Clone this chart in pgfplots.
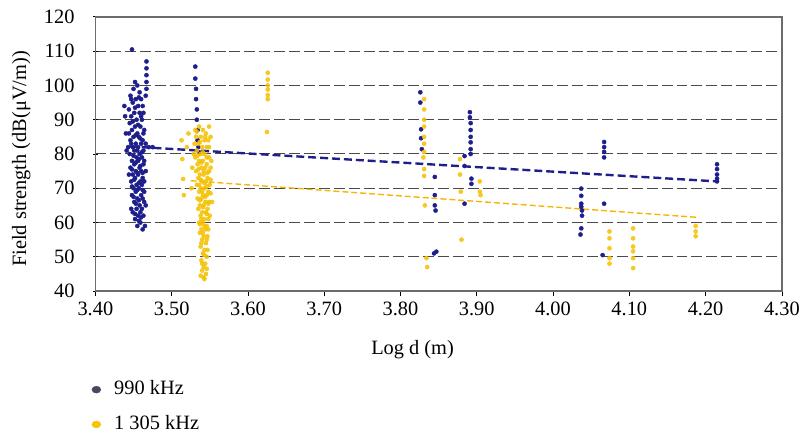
\documentclass[border=0pt]{standalone}
\usepackage{pgfplots}
\pgfplotsset{compat=1.18}
\usepackage{fontspec}
\setmainfont{Liberation Serif}
\definecolor{navy}{HTML}{1E1E8C}
\definecolor{gold}{HTML}{F4C000}
\definecolor{legnavy}{HTML}{4A4660}
\definecolor{leggold}{HTML}{F8C400}
\definecolor{gridc}{HTML}{4A4A4A}
\begin{document}
\begin{tikzpicture}
\begin{axis}[
  scale only axis, width=691pt, height=276pt,
  xmin=3.40, xmax=4.30, ymin=40, ymax=120,
  xtick={3.40,3.50,3.60,3.70,3.80,3.90,4.00,4.10,4.20,4.30},
  ytick={40,50,60,70,80,90,100,110,120},
  xticklabel style={/pgf/number format/fixed, /pgf/number format/fixed zerofill, /pgf/number format/precision=2, yshift=-2pt},
  /pgf/number format/assume math mode=true,
  font=\fontsize{20.5}{24}\selectfont,
  tick label style={font=\fontsize{20.5}{24}\selectfont},
  axis line style={draw=gray!85!black, line width=1.3pt},
  ymajorgrids, 
  major grid style={draw=gridc, line width=1.0pt, dash pattern=on 11pt off 4pt},
  ytick style={draw=black, line width=0.8pt},
  xtick style={draw=black, line width=0.6pt},
  major tick length=5pt,
  tick pos=left,
  xtick align=outside, ytick align=center,
  yticklabel style={xshift=-15pt},
  xlabel={Log d (m)},
  xlabel style={at={(axis description cs:0.462,0)}, anchor=north, yshift=-46pt},
  ylabel={Field strength (dB(μV/m))},
  ylabel style={at={(axis description cs:-0.108,0.482)}, anchor=center},
  legend style={at={(axis description cs:-0.0058,-0.316)}, anchor=north west, draw=none, fill=none, font=\fontsize{20.5}{24}\selectfont, row sep=11pt, inner sep=0pt, outer sep=0pt, nodes={text height=14pt, text depth=4pt, inner sep=3pt}},
  legend cell align=left,
]
% trend lines
\addplot[forget plot, navy, line width=2.4pt, dash pattern=on 8pt off 4pt] coordinates {(3.445,82.2)(4.215,72)};
\addplot[forget plot, gold!85!orange, line width=1.4pt, dash pattern=on 6pt off 3pt] coordinates {(3.525,72.2)(4.19,61.5)};
% 990 kHz
\addplot[forget plot, only marks, mark=*, mark size=2.1pt, color=navy] coordinates {
(3.448,110.5)
(3.467,107)(3.467,105)(3.467,103)(3.467,101)(3.467,99)(3.466,97)
(3.452,101)(3.455,100)(3.450,99)(3.458,98)(3.446,97)(3.453,96)(3.460,96)(3.449,95)(3.456,94)(3.462,94)(3.444,93)(3.451,92)(3.458,92)(3.447,91)(3.454,90)(3.461,90)(3.445,89)(3.452,88)(3.459,88)(3.464,87)(3.448,87)(3.455,86)(3.450,85)(3.457,85)(3.462,84)(3.446,84)(3.453,83)(3.460,83)(3.443,82)(3.449,82)(3.456,82)(3.463,81)(3.451,81)(3.458,80)(3.445,80)(3.454,79)(3.461,79)(3.448,78)(3.456,78)(3.463,77)(3.451,77)(3.458,76)(3.446,76)(3.453,75)(3.460,75)(3.449,74)(3.456,74)(3.462,73)(3.452,73)(3.459,72)(3.447,72)(3.454,71)(3.461,71)(3.450,70)(3.457,70)(3.464,69)(3.453,69)(3.460,68)(3.448,68)(3.455,67)(3.462,67)(3.451,66)(3.458,65)(3.454,64)(3.461,64)(3.449,63)(3.456,62)(3.463,62)(3.452,61)(3.459,60)(3.455,59)(3.462,58)(3.465,59)(3.447,96)(3.463,92)(3.444,86)(3.466,83)(3.441,81)(3.470,82)(3.475,82)(3.466,75)(3.444,74)(3.466,65)(3.447,64)
(3.457,96.5)(3.452,93.5)(3.460,91)(3.449,89.5)(3.456,88.5)(3.463,86)(3.453,85.5)(3.459,84.5)(3.447,83)(3.455,81)(3.461,80.5)(3.450,79.5)(3.457,78.5)(3.464,78)(3.453,77.5)(3.459,76.5)(3.448,75.5)(3.455,74.5)(3.462,74.5)(3.451,72.5)(3.457,71.5)(3.464,72)(3.448,70.5)(3.455,69.5)(3.462,69.5)(3.450,67.5)(3.457,66.5)(3.464,66)(3.453,65.5)(3.459,63)(3.452,62.5)(3.457,60.5)(3.460,61.5)
(3.438,94)(3.439,91)(3.440,86)
(3.531,105.5)(3.531,102)(3.532,99)(3.532,96)(3.533,93)(3.533,90)(3.534,87)(3.534,84)(3.535,82)(3.536,80.5)
(3.826,98)(3.826,95)(3.827,87.2)(3.827,84.6)(3.828,81.4)
(3.845,73.3)(3.845,68)(3.845,65)(3.846,63.5)(3.847,51.5)(3.844,51)
(3.891,92.2)(3.891,90.7)(3.892,89)(3.892,87)(3.892,85)(3.892,83.4)(3.892,81.4)(3.892,80)(3.893,72.8)(3.893,71.3)
(3.884,79.4)(3.884,76.5)(3.884,65.5)
(4.037,69.9)(4.037,67.8)(4.037,65.5)(4.037,64.6)(4.038,63.5)(4.038,62)(4.037,58.3)(4.036,56.5)
(4.067,83.5)(4.067,82)(4.067,80.6)(4.067,79)(4.067,65.5)(4.065,50.5)
(4.215,77)(4.215,75.6)(4.215,74)(4.215,72.8)(4.215,72)
};
% 1305 kHz
\addplot[forget plot, only marks, mark=*, mark size=2.1pt, color=gold, fill opacity=0.85, draw opacity=0.85] coordinates {
(3.536,88)(3.541,87)(3.545,86)(3.532,85)(3.538,85)(3.543,84)(3.548,84)(3.530,83)(3.535,83)(3.540,82)(3.546,82)(3.533,81)(3.538,80)(3.543,80)(3.549,79)(3.531,79)(3.536,78)(3.541,78)(3.546,77)(3.534,77)(3.539,76)(3.544,76)(3.549,75)(3.532,75)(3.537,74)(3.542,74)(3.547,73)(3.535,73)(3.540,72)(3.545,72)(3.550,71)(3.533,71)(3.538,70)(3.543,70)(3.548,69)(3.536,69)(3.541,68)(3.546,68)(3.534,67)(3.539,67)(3.544,66)(3.549,66)(3.537,65)(3.542,65)(3.547,64)(3.535,64)(3.540,63)(3.545,63)(3.538,62)(3.543,61)(3.548,61)(3.536,60)(3.541,60)(3.546,59)(3.539,58)(3.544,58)(3.537,57)(3.542,56)(3.547,56)(3.540,55)(3.545,54)(3.538,53)(3.543,52)(3.541,51)(3.546,50)(3.539,49)(3.544,48)(3.542,47)(3.540,46)(3.545,45)(3.542,44)(3.538,44.5)(3.529,80)(3.527,76)(3.526,70)(3.552,78)(3.551,85)(3.553,66)(3.549,88)(3.531,87)
(3.533,86.5)(3.544,85)(3.537,83.5)(3.549,82)(3.541,80.5)(3.534,79.5)(3.546,79)(3.539,77.5)(3.551,76)(3.542,75)(3.535,75.5)(3.547,74.5)(3.538,72.5)(3.551,72.5)(3.543,71.5)(3.536,71)(3.546,70.5)(3.540,69)(3.551,68.5)(3.544,67.5)(3.537,66.5)(3.548,65.5)(3.541,64.5)(3.546,62.5)(3.539,61)(3.550,62)(3.543,59)(3.537,59.5)(3.548,58)(3.541,57)(3.546,55)(3.539,54)(3.543,50.5)(3.547,52)(3.540,48)(3.546,46.5)(3.543,43.5)
(3.513,84)(3.514,78.5)(3.515,72.7)(3.516,68)(3.520,82)(3.522,86)
(3.626,103.7)(3.626,101.7)(3.626,100)(3.626,98.8)(3.626,97.2)(3.626,96)(3.625,86.4)
(3.831,96)(3.831,93)(3.831,90)(3.831,88)(3.831,85)(3.831,83)(3.831,80.6)(3.830,79)(3.831,75.6)(3.831,73.6)(3.832,65)(3.834,49.6)(3.835,47)
(3.878,78.5)(3.878,74)(3.879,69)(3.880,55)
(3.904,72)(3.904,69)(3.905,68)
(4.074,57.4)(4.074,55.4)(4.074,52.5)(4.074,49.6)(4.074,48)
(4.105,58.3)(4.105,55.4)(4.105,53)(4.105,51.6)(4.105,49.6)(4.105,46.7)
(4.187,59)(4.187,57.4)(4.187,56)
};
\addlegendimage{legend image code/.code={\fill[legnavy] (0pt,0pt) ellipse (4.5pt and 3.5pt); \path[draw=none,fill=none] (-5pt,0pt) (15pt,0pt);}}
\addlegendentry{990 kHz}
\addlegendimage{legend image code/.code={\fill[leggold] (0pt,0pt) ellipse (4.5pt and 3.5pt); \path[draw=none,fill=none] (-5pt,0pt) (15pt,0pt);}}
\addlegendentry{1 305 kHz}
\end{axis}
\path (current axis.north) ++(0pt,17pt);
\path (current axis.west) ++(-96pt,0pt);
\end{tikzpicture}
\end{document}
